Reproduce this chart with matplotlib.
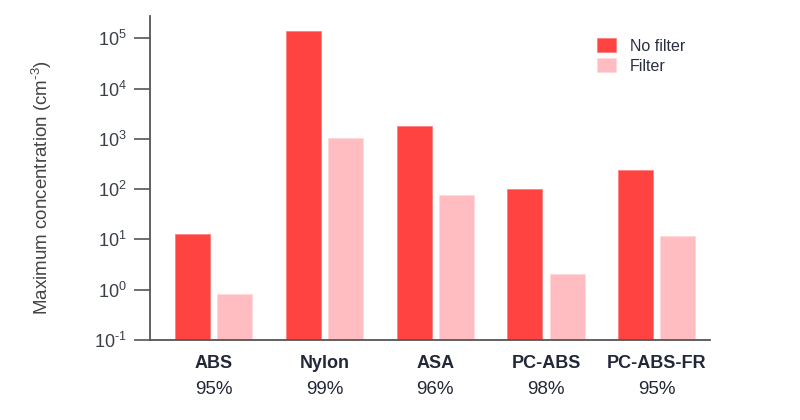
import matplotlib
matplotlib.use("Agg")
import matplotlib.pyplot as plt
import matplotlib.transforms as mtransforms
import numpy as np

plt.rcParams['font.family'] = ['Liberation Sans', 'DejaVu Sans']
plt.rcParams['mathtext.fontset'] = 'custom'
plt.rcParams['mathtext.rm'] = 'Liberation Sans'
plt.rcParams['mathtext.it'] = 'Liberation Sans:italic'
plt.rcParams['mathtext.bf'] = 'Liberation Sans:bold'
plt.rcParams['mathtext.default'] = 'regular'
plt.rcParams['axes.unicode_minus'] = False

categories = ["ABS", "Nylon", "ASA", "PC-ABS", "PC-ABS-FR"]
efficiency = ["95%", "99%", "96%", "98%", "95%"]
no_filter = [13, 140000, 1780, 100, 243]
with_filter = [0.74, 1050, 76, 1.93, 11.8]
tick_vals = [0.1, 1, 10, 100, 1000, 10000, 100000]
tick_labels = [r"$10^{\text{-}1}$", "$10^{0}$", "$10^{1}$", "$10^{2}$", "$10^{3}$", "$10^{4}$", "$10^{5}$"]

c_nf = "#FF4340"
c_f = "#FFBCC1"
dark = "#232838"

fig = plt.figure(figsize=(8, 4.2), dpi=100)
ax = fig.add_axes([0.1875, 0.1905, 0.70, 0.7715])

x = np.arange(len(categories))
w = 0.316
off = 0.19
ax.bar(x - off, no_filter, width=w, color=c_nf, edgecolor="#FF8080", linewidth=0.6, label="No filter", bottom=0.1)
ax.bar(x + off, with_filter, width=w, color=c_f, edgecolor="#FFD8DA", linewidth=0.6, label="Filter", bottom=0.1)

ax.set_yscale("log")
ax.set_ylim(0.1, 2.78e5)
ax.set_xlim(-0.573, 4.48)
ax.set_yticks(tick_vals)
ax.set_yticklabels(tick_labels)
ax.yaxis.set_minor_locator(matplotlib.ticker.NullLocator())
ax.tick_params(axis='y', length=11.5, width=1.2, color="#555555", labelsize=13, labelcolor="#3a3f4a", pad=5)
ax.set_xticks([])

for s in ["top", "right"]:
    ax.spines[s].set_visible(False)
for s in ["left", "bottom"]:
    ax.spines[s].set_color("#555555")
    ax.spines[s].set_linewidth(1.3)

ax.set_ylabel(r"Maximum concentration (cm$^{\text{-}3}$)", fontsize=13.5, color="#444444")
ax.yaxis.set_label_coords(-0.171, 0.47)

trans = mtransforms.blended_transform_factory(ax.transData, fig.transFigure)
for i, (c, e) in enumerate(zip(categories, efficiency)):
    ax.text(i, 1 - 363/420, c, transform=trans, ha="center", va="center", fontsize=13, fontweight="bold", color=dark)
    ax.text(i, 1 - 390/420, e, transform=trans, ha="center", va="center", fontsize=13.5, color=dark)

leg = ax.legend(loc="upper left", bbox_to_anchor=(0.772, 0.975), frameon=False, fontsize=11.5,
                handlelength=1.2, handleheight=0.9, handletextpad=0.9, labelspacing=0.3)
for t in leg.get_texts():
    t.set_color("#2a2f44")

fig.savefig("out.png", dpi=100)
